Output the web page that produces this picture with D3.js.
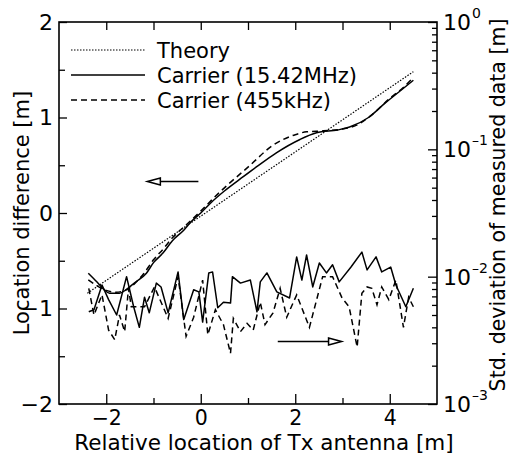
<!DOCTYPE html>
<html>
<head>
<meta charset="utf-8">
<script src="https://cdn.jsdelivr.net/npm/d3@7"></script>
<style>
  body { margin: 0; background: #fff; }
  svg text { font-family: "DejaVu Sans", sans-serif; fill: #000; }
</style>
</head>
<body>
<div id="chart"></div>
<script>
// Theory line (location difference, left axis)
const theoryX = [-2.4, 4.5];
const theoryY = [-0.84, 1.48];

// Carrier 15.42MHz location difference
const loc15X = [-2.38, -2.2, -2.05, -1.93, -1.72, -1.57, -1.4, -1.15, -1.0, -0.8, -0.6, -0.36, -0.2, 0.0, 0.2, 0.5, 0.9, 1.2, 1.6, 2.1, 2.45, 2.9, 3.15, 3.55, 3.9, 4.2, 4.5];
const loc15Y = [-0.63, -0.72, -0.80, -0.84, -0.84, -0.80, -0.73, -0.63, -0.52, -0.42, -0.29, -0.18, -0.09, 0.0, 0.10, 0.23, 0.38, 0.49, 0.63, 0.77, 0.84, 0.87, 0.90, 1.0, 1.15, 1.27, 1.39];

// Carrier 455kHz location difference
const loc455X = [-2.38, -2.2, -2.0, -1.8, -1.6, -1.4, -1.2, -1.0, -0.8, -0.6, -0.3, 0.0, 0.3, 0.56, 1.0, 1.53, 2.0, 2.24, 2.6, 3.0, 3.3, 3.6, 4.0, 4.3, 4.5];
const loc455Y = [-0.70, -0.76, -0.81, -0.83, -0.81, -0.74, -0.63, -0.49, -0.38, -0.26, -0.12, 0.02, 0.17, 0.29, 0.48, 0.71, 0.82, 0.85, 0.86, 0.88, 0.92, 1.02, 1.20, 1.32, 1.42];

// Std. deviation, 15.42MHz (right axis, log)
const std15X = [-2.37, -2.26, -2.09, -1.95, -1.78, -1.57, -1.42, -1.30, -1.19, -1.09, -0.94, -0.84, -0.69, -0.48, -0.36, -0.15, -0.04, 0.04, 0.17, 0.25, 0.36, 0.48, 0.63, 0.67, 0.84, 1.05, 1.19, 1.26, 1.40, 1.61, 1.88, 2.03, 2.14, 2.24, 2.37, 2.51, 2.66, 2.79, 2.93, 3.18, 3.41, 3.52, 3.71, 3.83, 4.02, 4.13, 4.34, 4.50];
const std15 = [0.0053, 0.0055, 0.0086, 0.0066, 0.0050, 0.0100, 0.0058, 0.0040, 0.0069, 0.0052, 0.0089, 0.0083, 0.0052, 0.0109, 0.0046, 0.0079, 0.0076, 0.0044, 0.0107, 0.0109, 0.0057, 0.0063, 0.0062, 0.0100, 0.0089, 0.0094, 0.0053, 0.0091, 0.0107, 0.0076, 0.0068, 0.0143, 0.0094, 0.0148, 0.0083, 0.0128, 0.0107, 0.0124, 0.0091, 0.0119, 0.0156, 0.0113, 0.0143, 0.0109, 0.0119, 0.0086, 0.0058, 0.0081];

// Std. deviation, 455kHz
const std455X = [-2.37, -2.26, -2.09, -1.95, -1.82, -1.72, -1.61, -1.53, -1.47, -1.19, -0.98, -0.69, -0.48, -0.31, -0.15, 0.04, 0.15, 0.31, 0.48, 0.63, 0.69, 0.84, 0.98, 1.11, 1.26, 1.36, 1.53, 1.68, 1.82, 2.03, 2.30, 2.58, 2.79, 2.99, 3.14, 3.31, 3.41, 3.52, 3.62, 3.73, 3.83, 3.98, 4.13, 4.29, 4.40, 4.50];
const std455 = [0.0081, 0.0050, 0.0072, 0.0038, 0.0032, 0.0050, 0.0037, 0.0081, 0.0058, 0.0058, 0.0083, 0.0047, 0.0100, 0.0034, 0.0048, 0.0094, 0.0035, 0.0055, 0.0042, 0.0025, 0.0047, 0.0037, 0.0043, 0.0038, 0.0063, 0.0042, 0.0052, 0.0081, 0.0048, 0.0072, 0.0040, 0.0100, 0.0100, 0.0068, 0.0058, 0.0028, 0.0074, 0.0083, 0.0081, 0.0060, 0.0083, 0.0066, 0.0094, 0.0040, 0.0069, 0.0058];

const xMajorTicks = [-2, 0, 2, 4];
const xMinorTicks = [-1, 1, 3];
const yMajorTicks = [-2, -1, 0, 1, 2];
const yMinorTicks = [-1.5, -0.5, 0.5, 1.5];
const logDecades = [0.001, 0.01, 0.1, 1];
const logExponents = ["\u20133", "\u20132", "\u20131", "0"];

const legendLabels = ["Theory", "Carrier (15.42MHz)", "Carrier (455kHz)"];
const legendDash = ["1.5,1.5", null, "6,4"];

const width = 514, height = 458;
const margin = { top: 22, right: 77, bottom: 54, left: 59 };
const w = width - margin.left - margin.right;
const h = height - margin.top - margin.bottom;

const svg = d3.select('#chart').append('svg')
  .attr('width', width)
  .attr('height', height);

const g = svg.append('g')
  .attr('transform', `translate(${margin.left},${margin.top})`);

const x = d3.scaleLinear().domain([-3, 5]).range([0, w]);
const y = d3.scaleLinear().domain([-2, 2]).range([h, 0]);
const yLog = d3.scaleLog().domain([0.001, 1]).range([h, 0]);

const fmt = d => String(d).replace('-', '\u2212');

// bottom axis: majors with labels, minors shorter
g.append('g')
  .attr('transform', `translate(0,${h})`)
  .call(d3.axisBottom(x).tickValues(xMajorTicks).tickSize(-10).tickPadding(6).tickFormat(fmt))
  .call(a => a.select('.domain').remove())
  .call(a => a.selectAll('text').style('font-size', '20.5px'));
g.append('g')
  .attr('transform', `translate(0,${h})`)
  .call(d3.axisBottom(x).tickValues(xMinorTicks).tickSize(-6).tickFormat(''))
  .call(a => a.select('.domain').remove());

// top axis ticks
g.append('g')
  .call(d3.axisTop(x).tickValues(xMajorTicks.concat(xMinorTicks)).tickSize(-8).tickFormat(''))
  .call(a => a.select('.domain').remove());

// left axis
g.append('g')
  .call(d3.axisLeft(y).tickValues(yMajorTicks).tickSize(-8).tickPadding(6).tickFormat(fmt))
  .call(a => a.select('.domain').remove())
  .call(a => a.selectAll('text').style('font-size', '22px'));
g.append('g')
  .call(d3.axisLeft(y).tickValues(yMinorTicks).tickSize(-6).tickFormat(''))
  .call(a => a.select('.domain').remove());

// right log axis
const logMinor = [];
logDecades.slice(0, 3).forEach(d => { for (let k = 2; k <= 9; k++) logMinor.push(d * k); });
g.append('g')
  .attr('transform', `translate(${w},0)`)
  .call(d3.axisRight(yLog).tickValues(logDecades).tickSize(-9).tickFormat(''))
  .call(a => a.select('.domain').remove());
g.append('g')
  .attr('transform', `translate(${w},0)`)
  .call(d3.axisRight(yLog).tickValues(logMinor).tickSize(-5).tickFormat(''))
  .call(a => a.select('.domain').remove());

const rl = g.append('g').selectAll('text')
  .data(logDecades)
  .join('text')
    .attr('x', w + 6)
    .attr('y', d => yLog(d) + 8)
    .style('font-size', '22px');
rl.append('tspan').text('10');
rl.append('tspan')
  .attr('dy', -12)
  .attr('dx', 1)
  .style('font-size', '14px')
  .text((d, i) => logExponents[i]);

g.selectAll('.tick line').attr('stroke', '#000').attr('stroke-width', 1.3);

// frame
g.append('rect')
  .attr('width', w).attr('height', h)
  .attr('fill', 'none')
  .attr('stroke', '#000')
  .attr('stroke-width', 1.6);

// lines
const line = d3.line().x(d => x(d[0])).y(d => y(d[1]));
const smooth = d3.line().x(d => x(d[0])).y(d => y(d[1])).curve(d3.curveMonotoneX);
const logLine = d3.line().x(d => x(d[0])).y(d => yLog(d[1]));

const zip = (a, b) => a.map((v, i) => [v, b[i]]);

g.append('path')
  .attr('d', line(zip(theoryX, theoryY)))
  .attr('fill', 'none').attr('stroke', '#000')
  .attr('stroke-width', 1.2).attr('stroke-dasharray', '1.5,1.5');

g.append('path')
  .attr('d', smooth(zip(loc15X, loc15Y)))
  .attr('fill', 'none').attr('stroke', '#000').attr('stroke-width', 1.5);

g.append('path')
  .attr('d', smooth(zip(loc455X, loc455Y)))
  .attr('fill', 'none').attr('stroke', '#000')
  .attr('stroke-width', 1.5).attr('stroke-dasharray', '6,4');

g.append('path')
  .attr('d', logLine(zip(std15X, std15)))
  .attr('fill', 'none').attr('stroke', '#000').attr('stroke-width', 1.5)
  .attr('stroke-linejoin', 'round');

g.append('path')
  .attr('d', logLine(zip(std455X, std455)))
  .attr('fill', 'none').attr('stroke', '#000')
  .attr('stroke-width', 1.5).attr('stroke-dasharray', '6,4');

// legend
const legend = g.append('g').attr('transform', 'translate(12,28)');
legendLabels.forEach((lab, i) => {
  const ly = i * 25;
  legend.append('line')
    .attr('x1', 0).attr('x2', 74)
    .attr('y1', ly).attr('y2', ly)
    .attr('stroke', '#000')
    .attr('stroke-width', i === 0 ? 1.2 : 1.3)
    .attr('stroke-dasharray', legendDash[i]);
  legend.append('text')
    .attr('x', 86).attr('y', ly + 7.5)
    .style('font-size', '21px')
    .text(lab);
});

// arrows pointing to each axis
function arrow(x0, x1, yy) {
  const dir = x1 < x0 ? -1 : 1;
  const hl = 13, hw = 3.5;
  g.append('line')
    .attr('x1', x0).attr('x2', x1 - dir * hl)
    .attr('y1', yy).attr('y2', yy)
    .attr('stroke', '#000').attr('stroke-width', 1.5);
  g.append('path')
    .attr('d', `M${x1},${yy} L${x1 - dir * hl},${yy - hw} L${x1 - dir * hl},${yy + hw} Z`)
    .attr('fill', '#fff').attr('stroke', '#000').attr('stroke-width', 1.5);
}
arrow(x(-0.05), x(-1.13), y(0.33));
arrow(x(1.63), x(2.98), yLog(0.0031));

// axis titles
svg.append('text')
  .attr('x', 264).attr('y', 450)
  .attr('text-anchor', 'middle')
  .style('font-size', '21.5px')
  .text('Relative location of Tx antenna [m]');

svg.append('text')
  .attr('transform', 'translate(29,213) rotate(-90)')
  .attr('text-anchor', 'middle')
  .style('font-size', '21px')
  .text('Location difference [m]');

svg.append('text')
  .attr('transform', 'translate(505,205) rotate(-90)')
  .attr('text-anchor', 'middle')
  .style('font-size', '20.5px')
  .text('Std. deviation of measured data [m]');
</script>
</body>
</html>
